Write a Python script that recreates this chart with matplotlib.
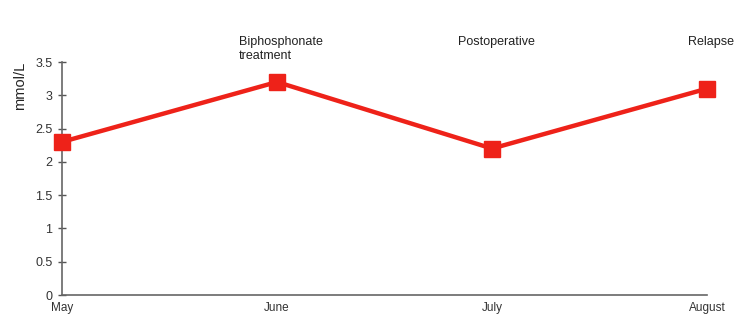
import matplotlib
matplotlib.use('Agg')
import matplotlib.pyplot as plt

months = ['May', 'June', 'July', 'August']
values = [2.3, 3.2, 2.2, 3.1]
events = ['', 'Biphosphonate\ntreatment', 'Postoperative', 'Relapse']
yticks = [0, 0.5, 1, 1.5, 2, 2.5, 3, 3.5]
ytick_labels = ['0', '0.5', '1', '1.5', '2', '2.5', '3', '3.5']

plt.rcParams['font.family'] = ['Liberation Sans', 'DejaVu Sans']

fig = plt.figure(figsize=(7.5, 3.35), dpi=100)
ax = fig.add_axes([0.0827, 0.1194, 0.86, 0.6955])

x = list(range(len(months)))
ax.plot(x, values, color='#ee2219', linewidth=3.2, marker='s',
        markersize=12, clip_on=False, zorder=3)

ax.set_xlim(0, len(months) - 1)
ax.set_ylim(0, 3.5)
ax.set_yticks(yticks)
ax.set_yticklabels(ytick_labels, fontsize=9, color='#333333')
ax.set_xticks(x)
ax.set_xticklabels(months, fontsize=8.5, color='#333333')
ax.tick_params(axis='x', length=0, pad=5)
ax.tick_params(axis='y', direction='inout', length=6, width=1,
               color='#555555', pad=4)
ax.set_ylabel('mmol/L', fontsize=10.5, color='#222222', labelpad=6, loc='top')

for s in ['top', 'right']:
    ax.spines[s].set_visible(False)
for s in ['left', 'bottom']:
    ax.spines[s].set_color('#666666')
    ax.spines[s].set_linewidth(1.2)

for xi, ev in zip(x, events):
    if ev:
        ax.annotate(ev, xy=(xi, 3.5), xycoords='data',
                    xytext=(3, 19), textcoords='offset points',
                    ha='center', va='top', fontsize=9, color='#222222',
                    multialignment='left', linespacing=1.25,
                    annotation_clip=False)

fig.savefig('out.png', dpi=100)
